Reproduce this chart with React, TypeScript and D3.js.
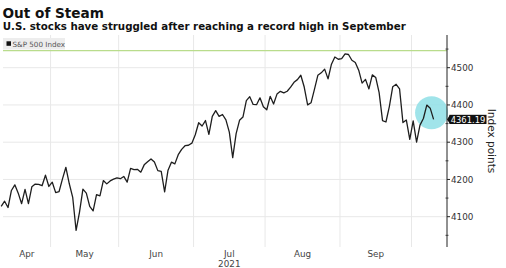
import React from "react";
import * as d3 from "d3";

const dates: string[] = [
  "2021-04-12","2021-04-13","2021-04-14","2021-04-15","2021-04-16","2021-04-19","2021-04-20","2021-04-21","2021-04-22","2021-04-23",
  "2021-04-26","2021-04-27","2021-04-28","2021-04-29","2021-04-30",
  "2021-05-03","2021-05-04","2021-05-05","2021-05-06","2021-05-07","2021-05-10","2021-05-11","2021-05-12","2021-05-13","2021-05-14",
  "2021-05-17","2021-05-18","2021-05-19","2021-05-20","2021-05-21","2021-05-24","2021-05-25","2021-05-26","2021-05-27","2021-05-28",
  "2021-06-01","2021-06-02","2021-06-03","2021-06-04","2021-06-07","2021-06-08","2021-06-09","2021-06-10","2021-06-11","2021-06-14",
  "2021-06-15","2021-06-16","2021-06-17","2021-06-18","2021-06-21","2021-06-22","2021-06-23","2021-06-24","2021-06-25","2021-06-28",
  "2021-06-29","2021-06-30",
  "2021-07-01","2021-07-02","2021-07-06","2021-07-07","2021-07-08","2021-07-09","2021-07-12","2021-07-13","2021-07-14","2021-07-15",
  "2021-07-16","2021-07-19","2021-07-20","2021-07-21","2021-07-22","2021-07-23","2021-07-26","2021-07-27","2021-07-28","2021-07-29",
  "2021-07-30",
  "2021-08-02","2021-08-03","2021-08-04","2021-08-05","2021-08-06","2021-08-09","2021-08-10","2021-08-11","2021-08-12","2021-08-13",
  "2021-08-16","2021-08-17","2021-08-18","2021-08-19","2021-08-20","2021-08-23","2021-08-24","2021-08-25","2021-08-26","2021-08-27",
  "2021-08-30","2021-08-31",
  "2021-09-01","2021-09-02","2021-09-03","2021-09-07","2021-09-08","2021-09-09","2021-09-10","2021-09-13","2021-09-14","2021-09-15",
  "2021-09-16","2021-09-17","2021-09-20","2021-09-21","2021-09-22","2021-09-23","2021-09-24","2021-09-27","2021-09-28","2021-09-29",
  "2021-09-30",
  "2021-10-01","2021-10-04","2021-10-05","2021-10-06","2021-10-07","2021-10-08","2021-10-11",
];

const closes: number[] = [
  4127.99,4141.59,4124.66,4170.42,4185.47,4163.26,4134.94,4173.42,4134.98,4180.17,
  4187.62,4186.72,4183.18,4211.47,4181.17,
  4192.66,4164.66,4167.59,4201.62,4232.60,4188.43,4152.10,4063.04,4112.50,4173.85,
  4163.29,4127.83,4115.68,4159.12,4155.86,4197.05,4188.13,4195.99,4200.88,4204.11,
  4202.04,4208.12,4192.85,4229.89,4226.52,4227.26,4219.55,4239.18,4247.44,4255.15,
  4246.59,4223.70,4221.86,4166.45,4224.79,4246.44,4241.84,4266.49,4280.70,4290.61,
  4291.80,4297.50,
  4319.94,4352.34,4343.54,4358.13,4320.82,4369.55,4384.63,4369.21,4374.30,4360.03,
  4327.16,4258.49,4323.06,4358.69,4367.48,4411.79,4422.30,4401.46,4400.64,4419.15,
  4395.26,
  4387.16,4423.15,4402.66,4429.10,4436.52,4432.35,4436.75,4447.70,4460.83,4468.00,
  4479.71,4448.08,4400.27,4405.80,4441.67,4479.53,4486.23,4496.19,4470.00,4509.37,
  4528.79,4522.68,
  4524.09,4536.95,4535.43,4520.03,4514.07,4493.28,4458.58,4468.73,4443.05,4480.70,
  4473.75,4432.99,4357.73,4354.19,4395.64,4448.98,4455.48,4443.11,4352.63,4359.46,
  4307.54,
  4357.04,4300.46,4345.72,4363.55,4399.76,4391.34,4361.19,
];

const yTicks: number[] = [4100, 4200, 4300, 4400, 4500];
const monthLabels: string[] = ["Apr", "May", "Jun", "Jul", "Aug", "Sep"];
const yearLabel = "2021";
const recordLevel = 4545.85;
const lastLabel = "4361.19";
const title = "Out of Steam";
const subtitle = "U.S. stocks have struggled after reaching a record high in September";
const legendLabel = "S&P 500 Index";
const axisTitle = "Index points";

export default function App() {
  const W = 506, H = 268;
  const plotLeft = 3, plotRight = 447, plotTop = 35, plotBottom = 247;
  const n = closes.length;
  const x = d3.scaleLinear().domain([0, n - 1]).range([1.2, 433.6]);
  const y = d3.scaleLinear().domain([4100, 4500]).range([216.7, 67.7]);

  const line = d3.line<number>().x((_, i) => x(i)).y((d) => y(d)).curve(d3.curveLinear);

  const monthStartIdx: number[] = [];
  dates.forEach((d, i) => {
    if (i > 0 && d.slice(5, 7) !== dates[i - 1].slice(5, 7)) monthStartIdx.push(i);
  });
  const gridX = monthStartIdx.map((i) => x(i - 0.5));
  const bounds = [Math.max(plotLeft, x(0)), ...gridX];
  const labelX = monthLabels.map((_, k) => (bounds[k] + bounds[k + 1]) / 2);

  const lastY = y(closes[n - 1]);
  const circleCx = x(n - 1.6);
  const circleCy = y(4379);

  const labelFont = "'DejaVu Sans', Verdana, sans-serif";

  return (
    <svg width={W} height={H} style={{ position: "absolute", left: 0, top: 0, background: "#fff" }}>
      <rect x={0} y={0} width={W} height={H} fill="#fff" />
      <text x={2.5} y={18} fontFamily={labelFont} fontWeight="bold" fontSize={14.5} fill="#111"
        textLength={101.5} lengthAdjust="spacingAndGlyphs">{title}</text>
      <text x={2.7} y={30.3} fontFamily={labelFont} fontWeight="bold" fontSize={10} fill="#111"
        textLength={403} lengthAdjust="spacingAndGlyphs">{subtitle}</text>

      {yTicks.map((t) => (
        <line key={"gy" + t} x1={plotLeft} x2={plotRight} y1={y(t)} y2={y(t)} stroke="#e8e8e8" strokeWidth={1} />
      ))}
      {gridX.map((gx, k) => (
        <line key={"gx" + k} x1={gx} x2={gx} y1={plotTop} y2={plotBottom} stroke="#e8e8e8" strokeWidth={1} />
      ))}

      <rect x={3} y={38} width={62} height={11.5} fill="#ededed" />
      <rect x={6.5} y={41.3} width={4.5} height={4.5} fill="#111" />
      <text x={12.5} y={46.5} fontFamily={labelFont} fontSize={7.2} fill="#555">{legendLabel}</text>

      <line x1={plotLeft} x2={plotRight} y1={y(recordLevel)} y2={y(recordLevel)} stroke="#b9dc8c" strokeWidth={1.3} />

      <circle cx={circleCx} cy={circleCy} r={16.5} fill="#8fdfe6" opacity={0.85} />

      <path d={line(closes) || ""} fill="none" stroke="#1e1e1e" strokeWidth={1.3} strokeLinejoin="round" />

      <line x1={plotRight} x2={plotRight} y1={plotTop} y2={plotBottom} stroke="#222" strokeWidth={1} />
      {yTicks.map((t) => (
        <g key={"yt" + t}>
          <line x1={plotRight} x2={plotRight + 3} y1={y(t)} y2={y(t)} stroke="#222" strokeWidth={1} />
          <text x={plotRight + 4} y={y(t) + 3.2} fontFamily={labelFont} fontSize={8.8} fill="#333">{t}</text>
        </g>
      ))}
      {d3.range(4050, 4600, 50).filter((v) => v % 100 !== 0 && y(v) > plotTop && y(v) < plotBottom).map((v) => (
        <line key={"mt" + v} x1={plotRight - 1.5} x2={plotRight + 1.5} y1={y(v)} y2={y(v)} stroke="#222" strokeWidth={0.8} />
      ))}

      <path d={`M${plotRight},${lastY} L${plotRight + 3},${lastY - 4.6} L${plotRight + 3},${lastY + 4.6} Z`} fill="#111" />
      <rect x={plotRight + 2.5} y={lastY - 4.6} width={37} height={9.2} fill="#111" />
      <text x={plotRight + 21} y={lastY + 3.1} textAnchor="middle" fontFamily={labelFont} fontSize={8.4} fill="#fff">{lastLabel}</text>

      <text transform={`translate(488,${141}) rotate(90)`} textAnchor="middle" fontFamily={labelFont} fontSize={10.5} fill="#222">{axisTitle}</text>

      {monthLabels.map((m, k) => (
        <text key={m} x={labelX[k]} y={256.5} textAnchor="middle" fontFamily={labelFont} fontSize={8.8} fill="#444">{m}</text>
      ))}
      <text x={labelX[3]} y={267} textAnchor="middle" fontFamily={labelFont} fontSize={8.8} fill="#444">{yearLabel}</text>
    </svg>
  );
}
